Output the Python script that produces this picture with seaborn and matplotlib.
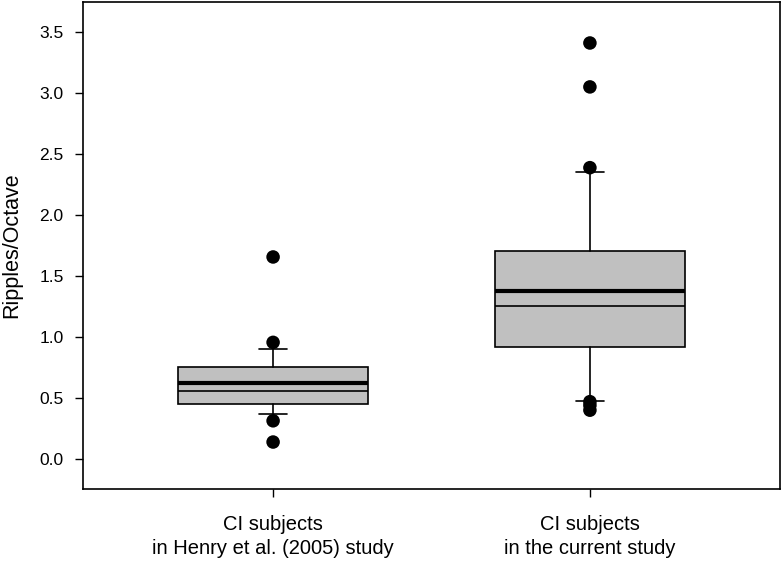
import matplotlib
matplotlib.use("Agg")
import matplotlib.pyplot as plt
import seaborn as sns
import pandas as pd

# group labels
groups = ["CI subjects\nin Henry et al. (2005) study", "CI subjects\nin the current study"]

# box statistics (whiskers at 10th/90th percentiles)
q1 = [0.453, 0.918]
medians = [0.557, 1.252]
q3 = [0.752, 1.705]
means = [0.625, 1.375]
whisker_lo = [0.371, 0.475]
whisker_hi = [0.899, 2.355]

# points beyond the whiskers
outliers_henry = [1.656, 0.956, 0.313, 0.139]
outliers_current = [3.41, 3.05, 2.388, 0.47, 0.44, 0.40]

sns.set_theme(style="ticks")
plt.rcParams["font.family"] = ["Liberation Sans", "DejaVu Sans"]
plt.rcParams["text.color"] = "black"
plt.rcParams["xtick.color"] = "black"
plt.rcParams["ytick.color"] = "black"
plt.rcParams["axes.labelcolor"] = "black"

fig = plt.figure(figsize=(7.83, 5.62), dpi=100)
ax = fig.add_axes([83 / 783, 73 / 562, 697 / 783, 487 / 562])

stats = []
for i in range(len(groups)):
    stats.append(dict(med=medians[i], q1=q1[i], q3=q3[i], mean=means[i],
                      whislo=whisker_lo[i], whishi=whisker_hi[i], fliers=[]))

ax.bxp(stats, positions=[0, 1], widths=0.6, capwidths=0.09,
       patch_artist=True, showmeans=True, meanline=True, showfliers=False,
       boxprops=dict(facecolor="#c0c0c0", edgecolor="black", linewidth=1.2),
       medianprops=dict(color="black", linewidth=1.2),
       meanprops=dict(color="black", linewidth=3.0, linestyle="-"),
       whiskerprops=dict(color="black", linewidth=1.2),
       capprops=dict(color="black", linewidth=1.2))

pts = pd.DataFrame({
    "group": [0] * len(outliers_henry) + [1] * len(outliers_current),
    "value": outliers_henry + outliers_current,
})
sns.scatterplot(data=pts, x="group", y="value", ax=ax, color="black",
                s=95, edgecolor="none", legend=False, zorder=5)

ax.set_xlim(-0.6, 1.6)
ax.set_ylim(-0.246, 3.746)
ax.set_xticks([0, 1])
ax.set_xticklabels(groups, fontsize=14.5, linespacing=1.3)
ax.set_yticks([0, 0.5, 1.0, 1.5, 2.0, 2.5, 3.0, 3.5])
ax.set_yticklabels([f"{v:.1f}" for v in ax.get_yticks()], fontsize=12.5)
ax.set_xlabel("")
ax.set_ylabel("Ripples/Octave", fontsize=15.5, labelpad=12)

for side in ["top", "right", "left", "bottom"]:
    ax.spines[side].set_visible(True)
    ax.spines[side].set_linewidth(1.2)
    ax.spines[side].set_color("black")
ax.tick_params(axis="both", direction="out", length=6, width=1.0, color="black")
ax.tick_params(axis="y", pad=8)
ax.tick_params(axis="x", pad=13)

fig.savefig("out.png", dpi=100)
